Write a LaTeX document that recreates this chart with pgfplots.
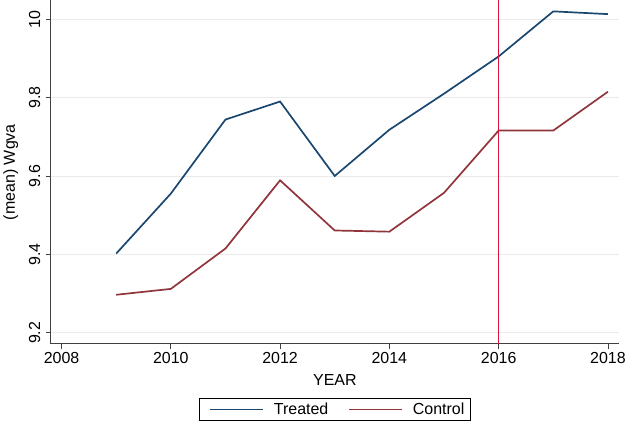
\documentclass[border=0pt]{standalone}
\usepackage{fontspec}
\setmainfont{Liberation Sans}
\usepackage{pgfplots}
\pgfplotsset{compat=1.18}
\definecolor{treat}{RGB}{26,71,111}
\definecolor{ctrl}{RGB}{144,53,59}
\definecolor{redline}{RGB}{215,20,60}
\definecolor{gridc}{RGB}{234,234,234}
\begin{document}
\begin{tikzpicture}[font=\fontsize{16}{19}\selectfont]
\begin{axis}[
  scale only axis, width=569pt, height=344pt,
  xmin=2007.805, xmax=2018.2, ymin=9.172, ymax=10.048,
  axis lines=left, axis line style={-, color=black!75, line width=0.8pt},
  xtick={2008,2010,2012,2014,2016,2018},
  xticklabels={2008,2010,2012,2014,2016,2018},
  ytick={9.2,9.4,9.6,9.8,10},
  yticklabels={9.2,9.4,9.6,9.8,10},
  yticklabel style={rotate=90, anchor=south, yshift=2pt},
  tick align=outside, major tick length=5pt,
  tick style={black!75, line width=0.8pt},
  ymajorgrids, grid style={gridc, line width=1pt},
  xlabel={YEAR}, ylabel={(mean) Wgva},
  xlabel style={yshift=-4pt},
  ylabel style={yshift=4pt},
  legend columns=2,
  legend style={at={(0.5,-0.158)}, anchor=north, draw=black, line width=0.6pt,
    inner xsep=4pt, inner ysep=2.5pt, /tikz/every even column/.append style={column sep=12pt}},
  legend image code/.code={\path (-6pt,0pt); \draw[#1, line width=1.2pt] (0pt,0pt) -- (53pt,0pt); \path (61pt,0pt);},
]
\addplot[color=treat, line width=1.7pt] coordinates {
(2009,9.402) (2010,9.555) (2011,9.744) (2012,9.790) (2013,9.600)
(2014,9.718) (2015,9.810) (2016,9.905) (2017,10.020) (2018,10.013)};
\addlegendentry{Treated}
\addplot[color=ctrl, line width=1.7pt] coordinates {
(2009,9.297) (2010,9.312) (2011,9.415) (2012,9.589) (2013,9.461)
(2014,9.458) (2015,9.557) (2016,9.716) (2017,9.716) (2018,9.815)};
\addlegendentry{Control}
\addplot[color=redline, line width=1.6pt, forget plot] coordinates {(2016,9.172) (2016,10.048)};
\end{axis}
\end{tikzpicture}
\end{document}
